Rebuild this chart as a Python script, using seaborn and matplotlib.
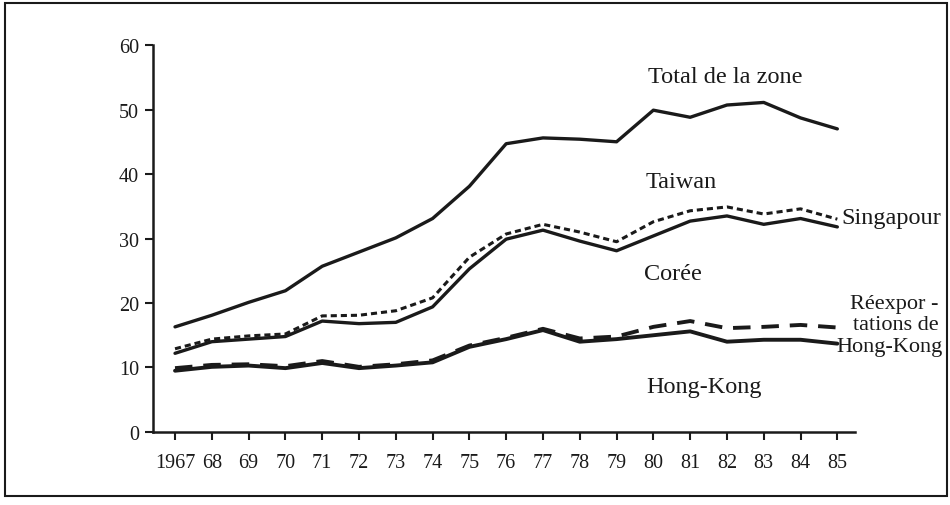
import numpy as np
import pandas as pd
import matplotlib
matplotlib.use("Agg")
import matplotlib.pyplot as plt
from matplotlib.patches import Rectangle
import seaborn as sns

# values
years = list(range(1967, 1986))
year_labels = ["1967"] + [str(y)[2:] for y in range(1968, 1986)]
total = [16.3, 18.1, 20.1, 21.9, 25.7, 27.9, 30.1, 33.1, 38.1, 44.7,
         45.6, 45.4, 45.0, 49.9, 48.8, 50.7, 51.1, 48.7, 47.0]
singapour = [12.9, 14.4, 14.9, 15.2, 18.0, 18.1, 18.8, 20.8, 27.1, 30.7,
             32.2, 31.0, 29.5, 32.6, 34.3, 34.9, 33.8, 34.6, 33.0]
coree = [12.2, 14.0, 14.4, 14.8, 17.2, 16.8, 17.0, 19.4, 25.3, 29.9,
         31.3, 29.6, 28.1, 30.4, 32.7, 33.5, 32.2, 33.1, 31.8]
hong_kong = [9.5, 10.1, 10.3, 9.9, 10.7, 9.9, 10.3, 10.8, 13.2, 14.4,
             15.8, 14.0, 14.4, 15.0, 15.6, 14.0, 14.3, 14.3, 13.7]
reexport = [9.9, 10.4, 10.5, 10.2, 11.0, 10.1, 10.5, 11.1, 13.4, 14.6,
            16.0, 14.5, 14.8, 16.3, 17.2, 16.1, 16.3, 16.6, 16.2]
y_ticks = [0, 10, 20, 30, 40, 50, 60]

sns.set_theme(style="white")
plt.rcParams['font.family'] = ['Liberation Serif', 'DejaVu Serif']

ink = '#1a1a1a'
fig = plt.figure(figsize=(9.5, 5.06), dpi=100)
ax = fig.add_axes([0.161, 0.1443, 0.739, 0.7647])

df = pd.DataFrame({'year': years, 'total': total, 'singapour': singapour,
                   'coree': coree, 'hk': hong_kong, 'reexp': reexport})

sns.lineplot(data=df, x='year', y='total', ax=ax, color=ink, lw=2.4)
sns.lineplot(data=df, x='year', y='coree', ax=ax, color=ink, lw=2.4)
sns.lineplot(data=df, x='year', y='singapour', ax=ax, color=ink, lw=2.2,
             linestyle=(0, (2, 1.3)))
sns.lineplot(data=df, x='year', y='hk', ax=ax, color=ink, lw=2.8)
sns.lineplot(data=df, x='year', y='reexp', ax=ax, color=ink, lw=2.8,
             linestyle=(0, (4.5, 2.8)))

ax.set_xlim(1966.4, 1985.48)
ax.set_ylim(0, 60)
ax.set_xticks(years)
ax.set_xticklabels(year_labels)
ax.set_yticks(y_ticks)
ax.set_xlabel('')
ax.set_ylabel('')
for side in ['top', 'right']:
    ax.spines[side].set_visible(False)
for side in ['left', 'bottom']:
    ax.spines[side].set_linewidth(1.8)
    ax.spines[side].set_color(ink)
ax.tick_params(axis='both', direction='out', length=6, width=1.5,
               colors=ink, labelsize=14.5, left=True, bottom=True)
ax.tick_params(axis='x', pad=9)
ax.tick_params(axis='y', pad=4)

txt = dict(color=ink, fontsize=17.5, va='center', clip_on=False)
ax.text(1979.85, 55.2, 'Total de la zone', ha='left', **txt)
ax.text(1979.8, 38.8, 'Taiwan', ha='left', **txt)
ax.text(1985.1, 33.2, 'Singapour', ha='left', **txt)
ax.text(1979.75, 24.5, 'Corée', ha='left', **txt)
ax.text(1979.8, 7.0, 'Hong-Kong', ha='left', **txt)

# the three-line label at the right is set a little smaller so it clears the lines
side = dict(color=ink, fontsize=16, va='center', ha='right', clip_on=False)
ax.text(1987.75, 20.0, 'Réexpor -', **side)
ax.text(1987.75, 16.7, 'tations de', **side)
ax.text(1987.85, 13.3, 'Hong-Kong', **side)

# frame round the figure
fig.patches.append(Rectangle((5 / 950, 1 - 497 / 506), 942 / 950, 493 / 506,
                             transform=fig.transFigure, fill=False,
                             lw=1.5, edgecolor=ink))

fig.savefig('out.png', dpi=100)
